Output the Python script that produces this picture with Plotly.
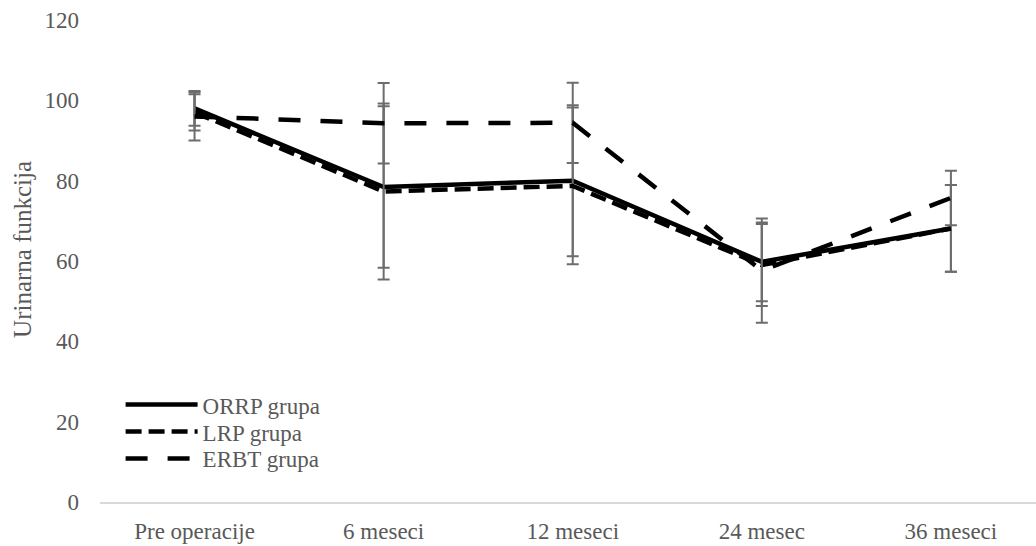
import plotly.graph_objects as go

categories = ["Pre operacije", "6 meseci", "12 meseci", "24 mesec", "36 meseci"]

orrp_values = [98.0, 78.4, 80.0, 59.8, 68.1]
orrp_errors = [4.3, 20.1, 18.8, 9.8, 10.8]

lrp_values = [97.0, 77.3, 78.7, 59.0, 68.1]
lrp_errors = [4.5, 21.9, 19.5, 10.2, 10.8]

erbt_values = [96.0, 94.3, 94.4, 57.6, 75.7]
erbt_errors = [6.0, 10.0, 10.0, 13.0, 6.8]

series_names = ["ORRP grupa", "LRP grupa", "ERBT grupa"]

FONT = "Times New Roman, Liberation Serif, Tinos, serif"
TEXT = "#595959"
ERR = "#6d6d6d"
FS = 23

fig = go.Figure()

def add(name, vals, errs, dash, legend):
    fig.add_trace(go.Scatter(
        x=categories, y=vals, name=name, mode="lines", legend=legend,
        line=dict(color="black", width=4.5, dash=dash),
        error_y=dict(type="data", array=errs, visible=True,
                     color=ERR, thickness=2, width=6),
    ))

add(series_names[0], orrp_values, orrp_errors, "solid", "legend")
add(series_names[1], lrp_values, lrp_errors, "16px,7px", "legend2")
add(series_names[2], erbt_values, erbt_errors, "22px,20px", "legend3")

def leg(ycenter_px):
    y = (502.5 - ycenter_px) / 482.5
    return dict(x=0.022, y=y, xanchor="left", yanchor="middle",
                bgcolor="rgba(0,0,0,0)", itemwidth=72,
                font=dict(family=FONT, size=FS, color=TEXT))

fig.update_layout(
    width=1036, height=546,
    margin=dict(l=100, r=0, t=20, b=44),
    paper_bgcolor="white", plot_bgcolor="white",
    font=dict(family=FONT, size=FS, color=TEXT),
    showlegend=True,
    legend=leg(405),
    legend2=leg(432),
    legend3=leg(459),
    xaxis=dict(type="category", range=[-0.5, 4.45], showgrid=False,
               showline=True, linecolor="#d9d9d9", linewidth=1.5,
               ticks="", ticklabelstandoff=8, zeroline=False,
               tickfont=dict(family=FONT, size=FS, color=TEXT)),
    yaxis=dict(range=[0, 120], tickvals=[0, 20, 40, 60, 80, 100, 120],
               showgrid=False, showline=False, zeroline=False,
               ticks="", ticklabelstandoff=20,
               tickfont=dict(family=FONT, size=FS, color=TEXT)),
    annotations=[dict(text="Urinarna funkcija", xref="paper", yref="paper",
                      x=-77/936, y=0.523, xanchor="center", yanchor="middle",
                      textangle=-90, showarrow=False,
                      font=dict(family=FONT, size=25, color=TEXT))],
)

fig.write_html("out.html")
